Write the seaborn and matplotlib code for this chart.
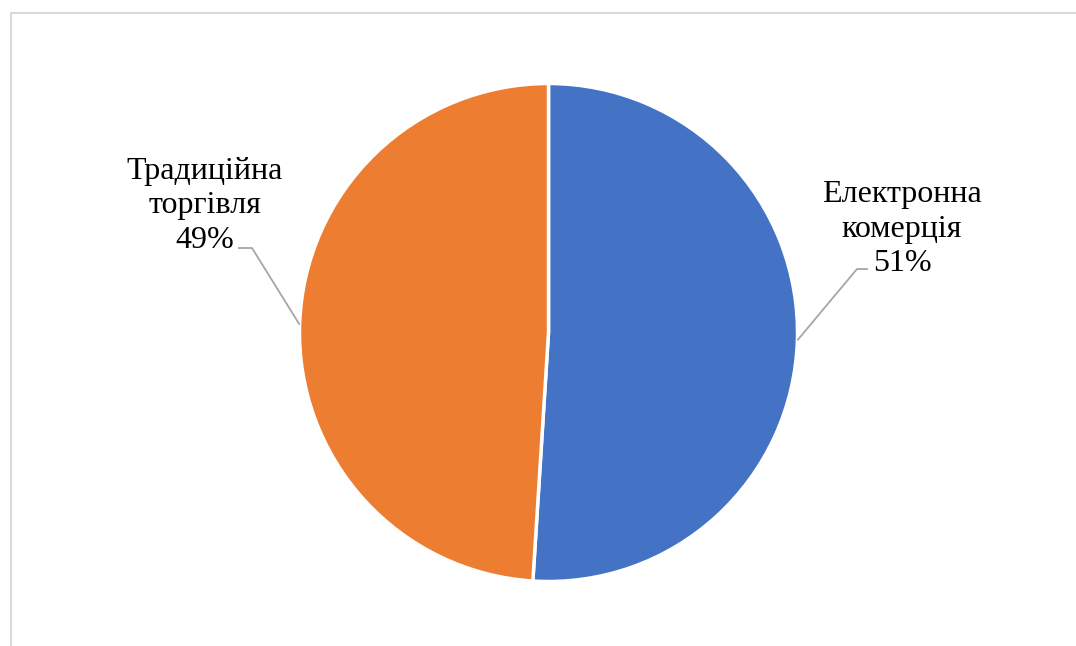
import numpy as np
import matplotlib
matplotlib.use("Agg")
import matplotlib.pyplot as plt
import seaborn as sns

# Market share data
categories = ["Електронна\nкомерція", "Традиційна\nторгівля"]
shares = [51, 49]
colors = ["#4472C4", "#ED7D31"]

sns.set_theme(style="white")
plt.rcParams["font.family"] = ["Liberation Serif", "DejaVu Serif"]

W, H = 1076, 646
fig = plt.figure(figsize=(W / 100, H / 100), dpi=100)
ax = fig.add_axes([0, 0, 1, 1])

cx, cy, r = 548.5, H - 332.5, 249
wedges, _ = ax.pie(
    shares, colors=colors, startangle=90, counterclock=False,
    center=(cx, cy), radius=r, frame=True,
    wedgeprops=dict(edgecolor="white", linewidth=2.5),
)
ax.set_xlim(0, W)
ax.set_ylim(0, H)
ax.set_aspect("equal")
ax.axis("off")

# Labels with leader lines from wedge mid-angles
label_pos = [(902, H - 229), (205, H - 206)]
elbow = [(857, H - 269), (252, H - 248)]
elbow_end = [(868, H - 269), (238, H - 248)]
for w, cat, s, (tx, ty), (ex, ey), (fx, fy) in zip(wedges, categories, shares,
                                                    label_pos, elbow, elbow_end):
    mid = np.deg2rad((w.theta1 + w.theta2) / 2)
    px, py = cx + r * np.cos(mid), cy + r * np.sin(mid)
    ax.plot([px, ex, fx], [py, ey, fy], color="#A6A6A6", lw=1.3,
            solid_capstyle="butt", zorder=1)
    ax.text(tx, ty, f"{cat}\n{s}%", ha="center", va="center",
            fontsize=23, color="#000000", linespacing=1.25)

# Chart area border (top and left)
ax.plot([10.5, W], [H - 12.5, H - 12.5], color="#D9D9D9", lw=1.5, clip_on=False)
ax.plot([10.5, 10.5], [H - 12.5, 0], color="#D9D9D9", lw=1.5, clip_on=False)

fig.savefig("out.png", dpi=100, facecolor="white")
